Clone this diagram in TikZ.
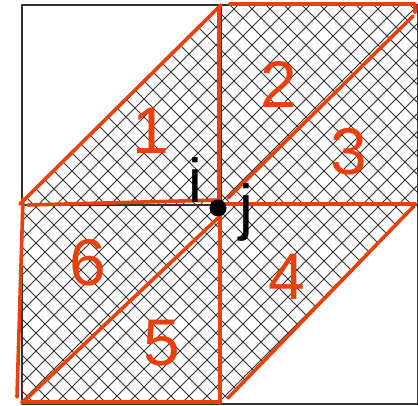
\documentclass[tikz,border=0pt]{standalone}
\usepackage{fontspec}
\setmainfont{Liberation Sans}
\usepackage{tikz}
\usetikzlibrary{positioning}
\definecolor{redorange}{RGB}{234,64,14}
\definecolor{hatchgray}{RGB}{50,50,50}

\begin{document}
\begin{tikzpicture}[x=1pt, y=-1pt, line join=round,
  hatchline/.style={hatchgray, line width=0.8pt},
  frame/.style={hatchgray, line width=1.2pt},
  stroke/.style={redorange, line width=3.6pt, line cap=round},
  region/.style={text=redorange, inner sep=0pt, font=\fontsize{66}{70}\selectfont},
  index/.style={text=black, inner sep=0pt, anchor=base, font=\fontsize{62}{66}\selectfont}]
\useasboundingbox (0,0) rectangle (418,406);
\coordinate (ml) at (22,205);
\coordinate (tm) at (221,5);
\coordinate (tr) at (418,5);
\coordinate (mr) at (418,205);
\coordinate (bm) at (221,404);
\coordinate (bl) at (22,404);
\coordinate (tl) at (22,5);
\coordinate (br) at (418,404);
% cross hatching of the shaded hexagon
\begin{scope}
  \clip (ml) -- (tm) -- (tr) -- (mr) -- (bm) -- (bl) -- cycle;
  \foreach \c in {-423,-405,...,850} {
    \draw[hatchline] (\c,0) -- ++(440,440);
    \draw[hatchline] (\c,0) -- ++(-440,440);
  }
\end{scope}
% square and axes
\draw[frame] (tl) rectangle (br);
\draw[frame] (ml) -- (mr);
\draw[frame] (tm) -- (bm);
% red strokes
\draw[stroke] (20,204) -- (221,5);
\draw[stroke] (219,8) -- (219,201);
\draw[stroke] (28,205) -- (219,200);
\draw[stroke] (230,4) -- (415,4) -- (415,12);
\draw[stroke] (413,16) -- (228,198);
\draw[stroke] (219,204) -- (415,204);
\draw[stroke] (413,207) -- (228,398);
\draw[stroke] (220,206) -- (220,403);
\draw[stroke] (23,199) -- (17,397);
\draw[stroke] (22,402) -- (219,402);
\draw[stroke] (22,403) -- (218,218);
% labels
\draw
  node at (151,131)[region](r1){1}
  node at (279,84)[region](r2){2}
  node at (349,152)[region](r3){3}
  node at (287,277)[region](r4){4}
  node at (162,343)[region](r5){5}
  node at (88,263)[region](r6){6}
  node at (195.5,203)[index](ii){i}
  node at (246,229)[index](jj){j};
\fill[black] (218,208) circle (8.5pt) coordinate (ij);
\end{tikzpicture}
\end{document}
